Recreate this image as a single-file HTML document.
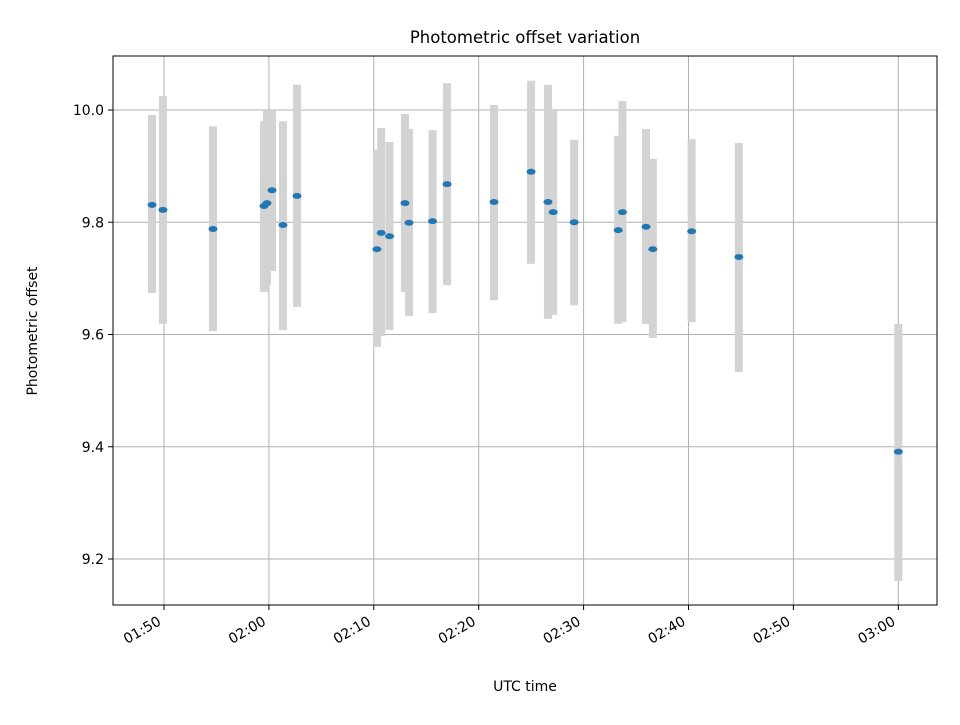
<!DOCTYPE html>
<html><head><meta charset="utf-8"><style>
body{margin:0;background:#fff;font-family:"Liberation Sans","DejaVu Sans",sans-serif}
svg text{font-family:"DejaVu Sans","Liberation Sans",sans-serif}
</style></head><body>
<svg id="c" width="960" height="720" viewBox="0 0 960 720" xmlns="http://www.w3.org/2000/svg">
<rect width="960" height="720" fill="#fff"/>
<text x="525" y="43" text-anchor="middle" font-size="16.5" fill="#000">Photometric offset variation</text>
<text x="525" y="691" text-anchor="middle" font-size="14">UTC time</text>
<text transform="translate(37,331) rotate(-90)" text-anchor="middle" font-size="14">Photometric offset</text>
<g id="grid"></g><g id="bars"></g><g id="pts"></g><g id="ticks"></g>
<rect x="113" y="56" width="824" height="549" fill="none" stroke="#000" stroke-width="1"/>
</svg>
<script>
// minutes after 01:50 UTC
const times=[-1.14,-0.1,4.67,9.53,9.82,10.3,11.34,12.68,20.3,20.7,21.5,22.97,23.36,25.6,26.98,31.46,34.99,36.6,37.1,39.1,43.3,43.7,45.95,46.6,50.3,54.8,70];
const values=[9.831,9.822,9.788,9.829,9.834,9.857,9.795,9.847,9.752,9.781,9.775,9.834,9.799,9.802,9.868,9.836,9.890,9.836,9.818,9.8,9.786,9.818,9.792,9.752,9.784,9.738,9.391];
const upper=[9.991,10.025,9.971,9.980,10.0,10.0,9.98,10.045,9.929,9.968,9.943,9.993,9.966,9.964,10.048,10.009,10.052,10.045,10.002,9.947,9.954,10.016,9.966,9.913,9.948,9.941,9.619];
const lower=[9.674,9.619,9.606,9.676,9.688,9.713,9.608,9.649,9.578,9.597,9.608,9.676,9.633,9.638,9.688,9.661,9.726,9.628,9.635,9.652,9.619,9.622,9.619,9.594,9.622,9.533,9.161];
const xTickMin=[0,10,20,30,40,50,60,70];
const xTickLabels=["01:50","02:00","02:10","02:20","02:30","02:40","02:50","03:00"];
const yTicks=[9.2,9.4,9.6,9.8,10.0];

const X=m=>164+(m)*10.49;
const Y=v=>110-(v-10)*561.25;
const NS="http://www.w3.org/2000/svg";
function mk(t,a,p){const e=document.createElementNS(NS,t);for(const k in a)e.setAttribute(k,a[k]);p.appendChild(e);return e;}
const grid=document.getElementById('grid'),ticks=document.getElementById('ticks'),bars=document.getElementById('bars'),pts=document.getElementById('pts');
xTickMin.forEach((m,i)=>{const x=X(m);
 const g=mk('line',{x1:x,x2:x,y1:56,y2:605,stroke:'#b0b0b0','stroke-width':1},grid);
 
 
 mk('line',{x1:x,x2:x,y1:605,y2:610,stroke:'#000'},ticks);
 const tx=x-2,ty=624;
 const t=mk('text',{x:tx,y:ty,'font-size':14,'text-anchor':'end',transform:`rotate(-30 ${tx} ${ty})`},ticks);
 t.textContent=xTickLabels[i];
 
 
});
yTicks.forEach(v=>{const y=Y(v);
 const g=mk('line',{x1:113,x2:937,y1:y,y2:y,stroke:'#b0b0b0','stroke-width':1},grid);
 
 
 mk('line',{x1:108,x2:113,y1:y,y2:y,stroke:'#000'},ticks);
 const t=mk('text',{x:104,y:y+5,'font-size':14,'text-anchor':'end'},ticks);
 t.textContent=v.toFixed(1);
 
 
});
times.forEach((m,i)=>{const x=X(m);
 const b=mk('rect',{x:x-4,y:Y(upper[i]),width:8,height:Y(lower[i])-Y(upper[i]),fill:'#d3d3d3'},bars);
 
 
 const p=mk('ellipse',{cx:x,cy:Y(values[i]),rx:4.5,ry:3,fill:'#1f77b4'},pts);
 
 
});
</script>
</body></html>
